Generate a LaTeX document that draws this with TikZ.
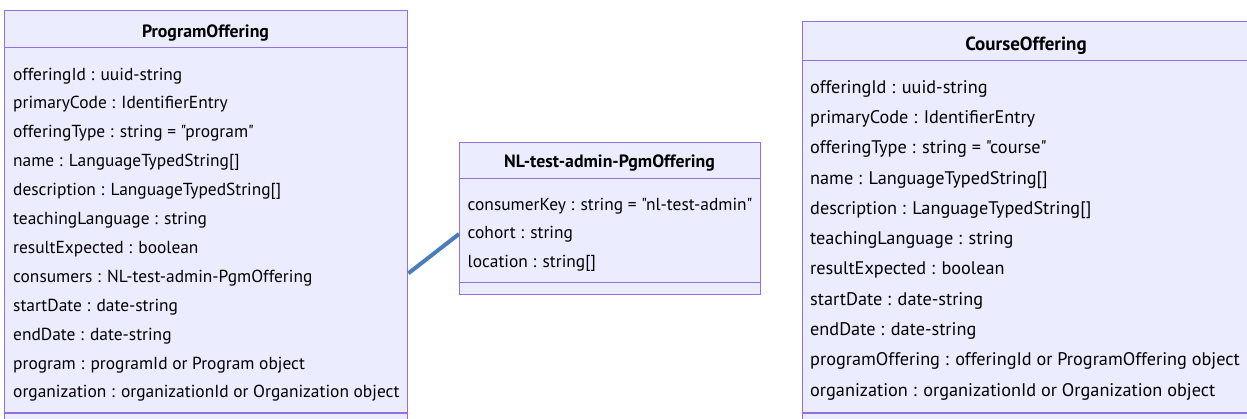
\documentclass[tikz,border=0pt]{standalone}
\usepackage{fontspec}
\setmainfont{PT Sans}[Ligatures=TeXOff]
\definecolor{boxfill}{HTML}{ECECFF}
\definecolor{boxline}{HTML}{9370DB}
\definecolor{linkcol}{RGB}{74,126,187}
\begin{document}
\begin{tikzpicture}[x=1pt,y=-1pt,
  box/.style={draw=boxline,fill=boxfill,line width=1.4pt,rectangle,inner sep=0,anchor=north west},
  sep/.style={draw=boxline,line width=1.4pt},
  ttl/.style={font=\fontsize{17.8}{21}\selectfont\bfseries,inner sep=0,anchor=base},
  attrL/.style={font=\fontsize{17.4}{21}\selectfont,inner sep=0,anchor=base west},
  attrR/.style={font=\fontsize{18.25}{22}\selectfont,inner sep=0,anchor=base west},
  link/.style={draw=linkcol,line width=4pt}]
\useasboundingbox (0,0) rectangle (1247,418);
\clip (0,0) rectangle (1247,418);
\fill[white] (0,0) rectangle (1247,418);
% ProgramOffering
\node[box,minimum width=403pt,minimum height=430pt] (po) at (4,10) {};
\draw[sep] (4,47.5) -- (407,47.5);
\draw[sep] (4,413) -- (407,413);
\node[ttl] (pot) at (205.5,37) {ProgramOffering};
\foreach \t [count=\i from 0] in {
  {offeringId : uuid-string},
  {primaryCode : IdentifierEntry},
  {offeringType : string = "program"},
  {name : LanguageTypedString[]},
  {description : LanguageTypedString[]},
  {teachingLanguage : string},
  {resultExpected : boolean},
  {consumers : NL-test-admin-PgmOffering},
  {startDate : date-string},
  {endDate : date-string},
  {program : programId or Program object},
  {organization : organizationId or Organization object}}
  \node[attrL] (pa\i) at (13,80+28.9*\i) {\t};
% NL-test-admin-PgmOffering
\node[box,minimum width=301pt,minimum height=152.5pt] (nl) at (459,141.5) {};
\draw[sep] (459,178.7) -- (760,178.7);
\draw[sep] (459,282.7) -- (760,282.7);
\node[ttl] (nlt) at (609.5,167.3) {NL-test-admin-PgmOffering};
\node[attrL] (na0) at (467.5,210) {consumerKey : string = "nl-test-admin"};
\node[attrL] (na1) at (467.5,238.5) {cohort : string};
\node[attrL] (na2) at (467.5,267) {location : string[]};
% CourseOffering
\node[box,minimum width=452pt,minimum height=430pt] (co) at (801.5,21) {};
\draw[sep] (801.5,60.5) -- (1260,60.5);
\draw[sep] (801.5,413) -- (1260,413);
\node[ttl,font=\fontsize{19}{22}\selectfont\bfseries] (cot) at (1026,50) {CourseOffering};
\foreach \t [count=\i from 0] in {
  {offeringId : uuid-string},
  {primaryCode : IdentifierEntry},
  {offeringType : string = "course"},
  {name : LanguageTypedString[]},
  {description : LanguageTypedString[]},
  {teachingLanguage : string},
  {resultExpected : boolean},
  {startDate : date-string},
  {endDate : date-string},
  {programOffering : offeringId or ProgramOffering object},
  {organization : organizationId or Organization object}}
  \node[attrR] (ca\i) at (810,93.3+30.27*\i) {\t};
% connector
\draw[link] (po.east |- 0,273.3) -- (nl.west |- 0,234);
\end{tikzpicture}
\end{document}
